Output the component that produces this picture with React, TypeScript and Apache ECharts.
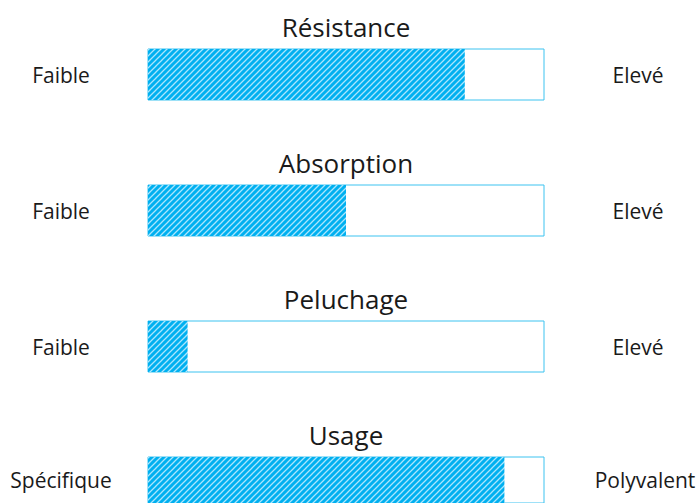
import React, { useEffect, useRef } from "react";
import * as echarts from "echarts";

const categories = ["Résistance", "Absorption", "Peluchage", "Usage"];
const values = [8, 5, 1, 9];
const maxValue = 10;
const leftLabels = ["Faible", "Faible", "Faible", "Spécifique"];
const rightLabels = ["Elevé", "Elevé", "Elevé", "Polyvalent"];

const FONT = "'Open Sans', 'Noto Sans', sans-serif";

function makePattern(): HTMLCanvasElement {
  const c = document.createElement("canvas");
  c.width = 6;
  c.height = 6;
  const ctx = c.getContext("2d")!;
  ctx.fillStyle = "#00b0f0";
  ctx.fillRect(0, 0, 6, 6);
  ctx.strokeStyle = "rgba(200,240,255,0.85)";
  ctx.lineWidth = 1.3;
  ctx.beginPath();
  ctx.moveTo(-1, 7);
  ctx.lineTo(7, -1);
  ctx.moveTo(-7, 7);
  ctx.lineTo(1, -1);
  ctx.moveTo(5, 7);
  ctx.lineTo(13, -1);
  ctx.stroke();
  return c;
}

export default function App() {
  const ref = useRef<HTMLDivElement>(null);
  useEffect(() => {
    if (!ref.current) return;
    const chart = echarts.init(ref.current, undefined, { renderer: "svg" });
    const pattern = makePattern();
    const gridLeft = 148;
    const gridWidth = 396;
    const gridHeight = 51;
    const firstTop = 49;
    const step = 136;

    const grid = categories.map((_, i) => ({
      left: gridLeft,
      top: firstTop + step * i,
      width: gridWidth,
      height: gridHeight,
      containLabel: false,
      show: true,
      borderColor: "#3cc3f0",
      borderWidth: 1,
      backgroundColor: "rgba(0,0,0,0)",
    }));
    const xAxis = categories.map((_, i) => ({
      type: "value",
      gridIndex: i,
      min: 0,
      max: maxValue,
      show: false,
    }));
    const yAxis: any[] = [];
    categories.forEach((c, i) => {
      yAxis.push({
        type: "category",
        gridIndex: i,
        position: "left",
        data: [leftLabels[i]],
        axisLine: { show: false },
        axisTick: { show: false },
        splitLine: { show: false },
        axisLabel: {
          align: "center",
          margin: gridLeft - 61,
          fontFamily: FONT,
          fontSize: 21,
          color: "#1a1a1a",
          padding: [0, 0, 4, 0],
        },
      });
      yAxis.push({
        type: "category",
        gridIndex: i,
        position: "right",
        data: [rightLabels[i]],
        axisLine: { show: false },
        axisTick: { show: false },
        splitLine: { show: false },
        axisLabel: {
          align: "center",
          margin: i === 3 ? 645 - (gridLeft + gridWidth) : 638 - (gridLeft + gridWidth),
          fontFamily: FONT,
          fontSize: 21,
          color: "#1a1a1a",
          padding: [0, 0, 4, 0],
        },
      });
    });
    const series: any[] = [];
    categories.forEach((c, i) => {
      series.push({
        type: "bar",
        name: c,
        xAxisIndex: i,
        yAxisIndex: i * 2,
        data: [values[i]],
        barWidth: "100%",
        itemStyle: { color: { image: pattern, repeat: "repeat" } },
        z: 2,
      });
    });
    const graphic = categories.map((c, i) => ({
      type: "text",
      x: gridLeft + gridWidth / 2,
      y: firstTop + step * i - 22,
      style: {
        text: c,
        fontFamily: FONT,
        fontSize: 26,
        fill: "#1a1a1a",
        textAlign: "center",
        textVerticalAlign: "middle",
      },
    }));
    chart.setOption({
      animation: false,
      backgroundColor: "#ffffff",
      grid,
      xAxis,
      yAxis,
      series,
      graphic,
    });
    return () => chart.dispose();
  }, []);
  return (
    <div
      ref={ref}
      style={{ position: "fixed", left: 0, top: 0, width: 699, height: 503 }}
    />
  );
}
